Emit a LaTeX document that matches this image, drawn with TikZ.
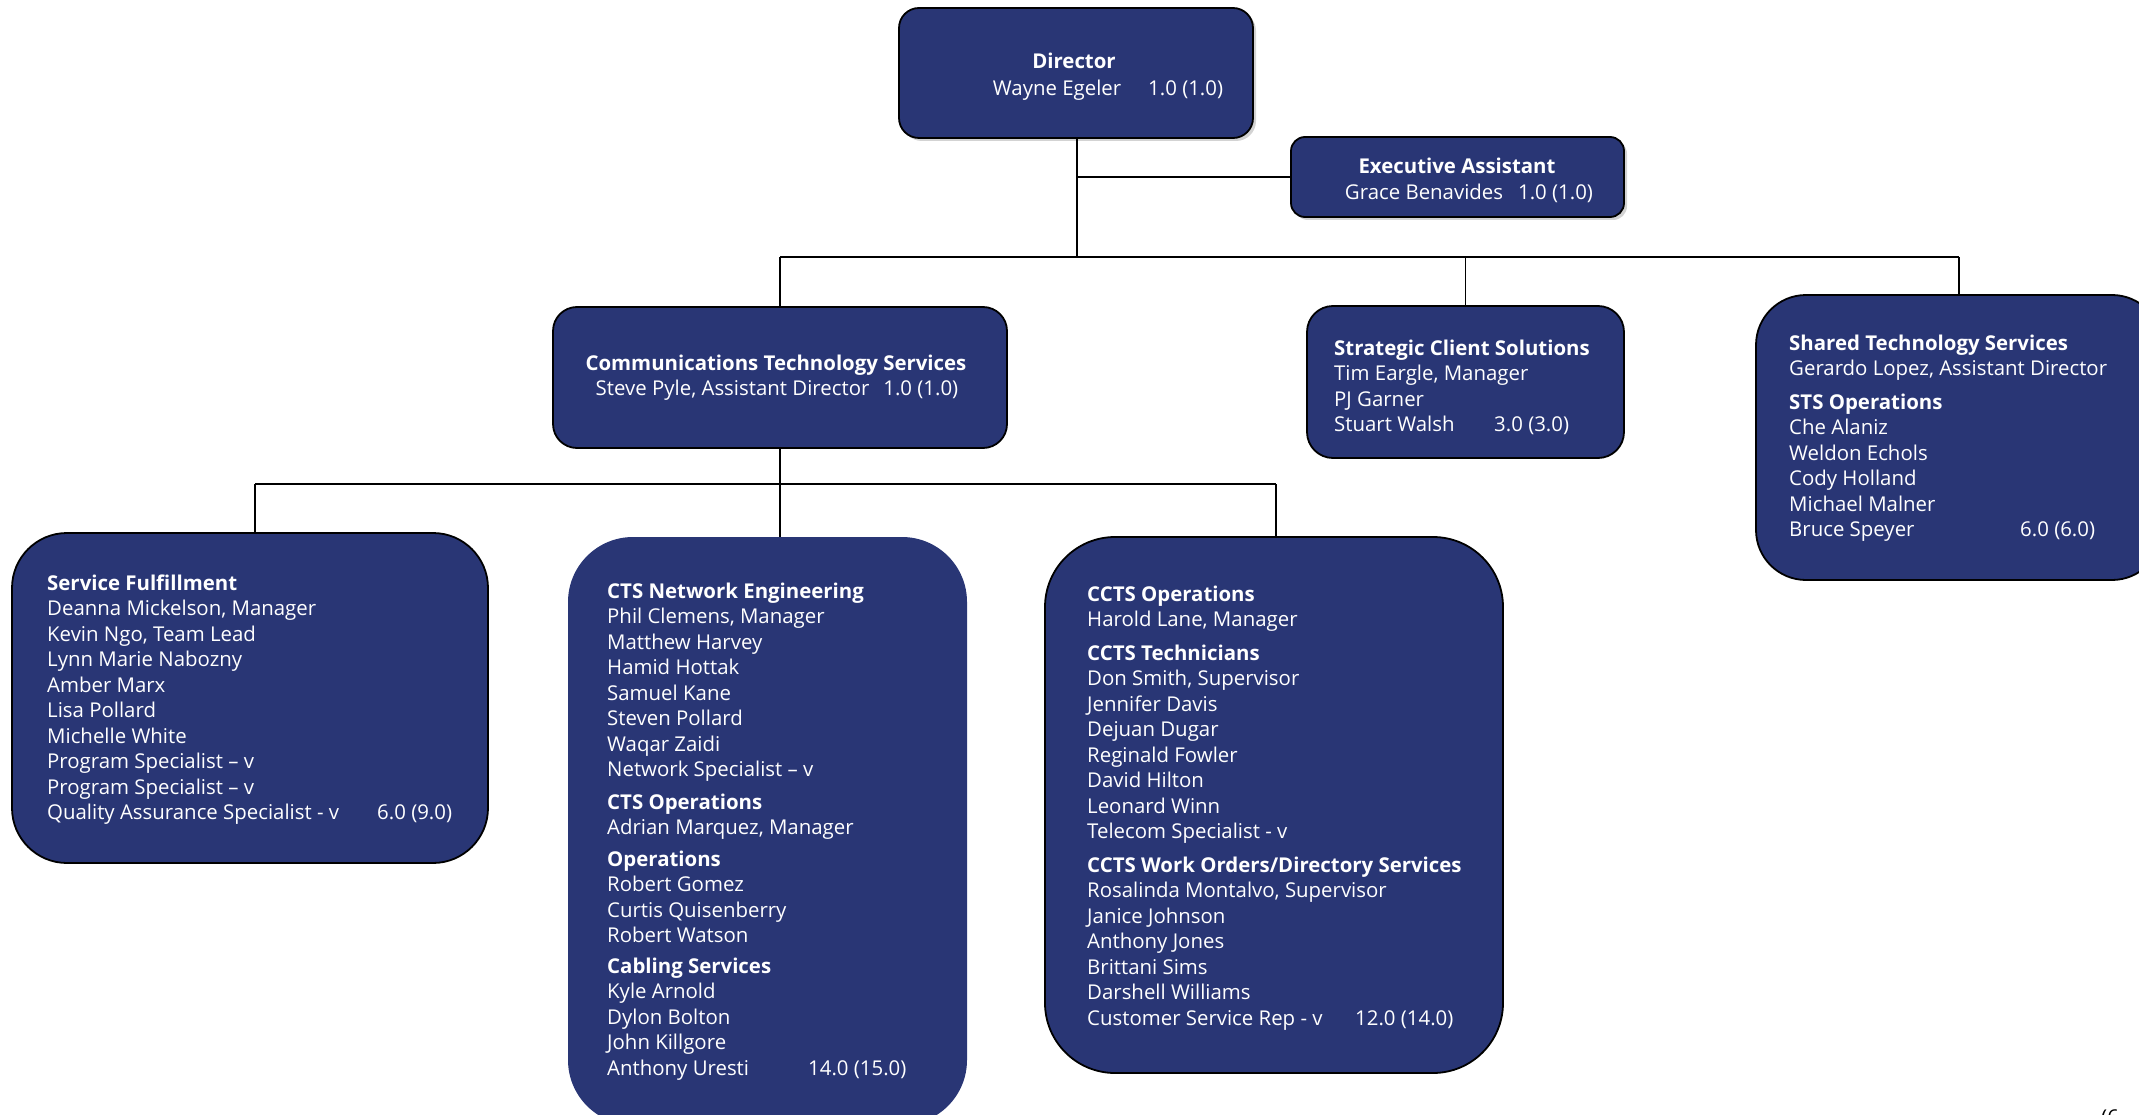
\documentclass[tikz,border=0pt]{standalone}
\usepackage{fontspec}
\setmainfont{Open Sans}
\usetikzlibrary{shadows}
\definecolor{navy}{RGB}{41,54,117}
\begin{document}
\begin{tikzpicture}[x=1pt,y=-1pt,
  box/.style={draw=black, line width=1.8pt, fill=navy, rounded corners=#1, inner sep=0pt},
  nbox/.style={fill=navy, rounded corners=#1, inner sep=0pt},
  shad/.style={drop shadow={opacity=0.35, shadow xshift=3pt, shadow yshift=-3pt}},
  conn/.style={draw=black, line width=1.8pt},
  txt/.style={anchor=north west, inner sep=0pt, text=white, align=left, font=\fontsize{20.4}{25.5}\selectfont},
  ctxt/.style={anchor=base, inner sep=0pt, text=white, font=\fontsize{20.4}{25.5}\selectfont}]
\useasboundingbox (0,0) rectangle (2139,1115);

% boxes
\node[box=20pt, shad, minimum width=354pt, minimum height=130pt] (dir) at (1076,73) {};
\node[box=14pt, shad, minimum width=333pt, minimum height=80pt] (exec) at (1457.5,177) {};
\node[box=24pt, minimum width=454pt, minimum height=141pt] (cts) at (780,377.5) {};
\node[box=26pt, minimum width=317pt, minimum height=152pt] (scs) at (1465.5,382) {};
\node[box=50pt, minimum width=406pt, minimum height=285pt] (sts) at (1959,437.5) {};
\node[box=55pt, minimum width=476pt, minimum height=330pt] (sf) at (250,698) {};
\node[nbox=65pt, minimum width=399pt, minimum height=588pt] (ctsne) at (767.5,831) {};
\node[box=70pt, minimum width=458pt, minimum height=536pt] (ccts) at (1274,805) {};

% connectors
\coordinate (jb) at (1077,258);
\coordinate (bl) at (780,257);
\coordinate (br) at (1959,257);
\coordinate (cl) at (255,484);
\coordinate (cr) at (1276,484);
\draw[conn] (jb |- dir.south) -- (jb);
\draw[conn] (exec.west) -- (exec.west -| jb);
\draw[conn] (bl) -- (br);
\draw[conn] (bl) -- (cts.north);
\draw[conn] (scs.north |- bl) -- (scs.north);
\draw[conn] (br) -- (br |- sts.north);
\draw[conn] (cl) -- (cr);
\draw[conn] (cl) -- (cl |- sf.north);
\draw[conn] (cr) -- (cr |- ccts.north);
\draw[conn] (cts.south) -- (cts.south |- ctsne.north);

% texts
\node[ctxt] (dirt1) at (1074,69) {\textbf{Director}};
\node[ctxt] (dirt2) at (1108,96) {Wayne Egeler\hspace{27pt}1.0 (1.0)};
\node[ctxt] (ext1) at (1457,174) {\textbf{Executive Assistant}};
\node[ctxt] (ext2) at (1469,200) {Grace Benavides\hspace{15pt}1.0 (1.0)};
\node[ctxt] (ctst1) at (776,370) {\textbf{Communications Technology Services}};
\node[ctxt] (ctst2) at (777,395) {Steve Pyle, Assistant Director\hspace{14pt}1.0 (1.0)};

\node[txt] (scst) at (1334,337) {\strut\textbf{Strategic Client Solutions}\\Tim Eargle, Manager\\PJ Garner\\\makebox[160pt][l]{Stuart Walsh}3.0 (3.0)};

\node[txt] (stst) at (1789,332) {\strut\textbf{Shared Technology Services}\\Gerardo Lopez, Assistant Director\\[8pt]\textbf{STS Operations}\\Che Alaniz\\Weldon Echols\\Cody Holland\\Michael Malner\\\makebox[231pt][l]{Bruce Speyer}6.0 (6.0)};

\node[txt] (sft) at (47,572) {\strut\textbf{Service Fulfillment}\\Deanna Mickelson, Manager\\Kevin Ngo, Team Lead\\Lynn Marie Nabozny\\Amber Marx\\Lisa Pollard\\Michelle White\\Program Specialist – v\\Program Specialist – v\\\makebox[330pt][l]{Quality Assurance Specialist - v}6.0 (9.0)};

\node[txt] (ctsnet) at (607,580) {\strut\textbf{CTS Network Engineering}\\Phil Clemens, Manager\\Matthew Harvey\\Hamid Hottak\\Samuel Kane\\Steven Pollard\\Waqar Zaidi\\Network Specialist – v\\[7pt]\textbf{CTS Operations}\\Adrian Marquez, Manager\\[6pt]\textbf{Operations}\\Robert Gomez\\Curtis Quisenberry\\Robert Watson\\[5pt]\textbf{Cabling Services}\\Kyle Arnold\\Dylon Bolton\\John Killgore\\\makebox[201pt][l]{Anthony Uresti}14.0 (15.0)};

\node[txt] (cctst) at (1087,583) {\strut\textbf{CCTS Operations}\\Harold Lane, Manager\\[8pt]\textbf{CCTS Technicians}\\Don Smith, Supervisor\\Jennifer Davis\\Dejuan Dugar\\Reginald Fowler\\David Hilton\\Leonard Winn\\Telecom Specialist - v\\[8pt]\textbf{CCTS Work Orders/Directory Services}\\Rosalinda Montalvo, Supervisor\\Janice Johnson\\Anthony Jones\\Brittani Sims\\Darshell Williams\\\makebox[268pt][l]{Customer Service Rep - v}12.0 (14.0)};

\node[anchor=base west, inner sep=0pt, font=\fontsize{20.4}{25.5}\selectfont] (pg) at (2101,1124) {(6};
\end{tikzpicture}
\end{document}
